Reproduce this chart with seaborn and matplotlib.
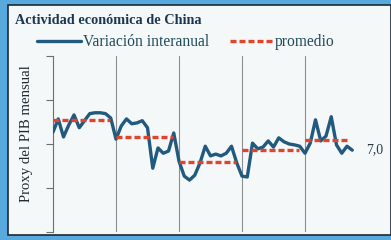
import matplotlib
matplotlib.use("Agg")
import matplotlib.pyplot as plt
from matplotlib.patches import Rectangle
from matplotlib.lines import Line2D
import pandas as pd
import seaborn as sns

# variacion interanual mensual
variacion = [7.27, 7.57, 7.16, 7.43, 7.66, 7.37, 7.53, 7.69, 7.71, 7.71, 7.69, 7.59,
             7.11, 7.41, 7.57, 7.46, 7.48, 7.53, 7.37, 6.45, 6.91, 6.79, 6.84, 7.25,
             6.61, 6.27, 6.18, 6.29, 6.57, 6.95, 6.73, 6.77, 6.73, 6.79, 6.95, 6.57,
             6.27, 6.25, 7.02, 6.89, 6.93, 7.07, 6.93, 7.14, 7.05, 7.00, 6.98, 6.95,
             6.79, 7.02, 7.55, 7.07, 7.18, 7.62, 6.98, 6.79, 6.95, 6.86]
meses = list(range(len(variacion)))

# promedio de cada anio
promedio = [7.55, 7.16, 6.59, 6.86, 7.09]
prom_inicio = [0, 12, 24, 36, 48]
prom_fin = [10.8, 22.8, 34.8, 46.8, 56.6]
divisiones = [12, 24, 36, 48]
ultimo = "7,0"

AZUL = "#215a7e"
ROJO = "#e0452b"

sns.set_theme(style="white")
plt.rcParams['font.family'] = ['Liberation Serif', 'DejaVu Serif']

W, H = 391, 240
fig = plt.figure(figsize=(W / 100, H / 100), dpi=100)
fig.patch.set_facecolor("#58a9dd")
fig.add_artist(Rectangle((8 / W, 5 / H), (391 - 8) / W, (235 - 5) / H,
                         transform=fig.transFigure, facecolor="#f4f8f9",
                         edgecolor="#1b2a35", lw=1.2, zorder=-1))

ax = fig.add_axes([53 / W, 1 - 232 / H, (388 - 53) / W, (232 - 56) / H])
ax.set_facecolor("none")

df = pd.DataFrame({"mes": meses, "variacion": variacion})
sns.lineplot(data=df, x="mes", y="variacion", ax=ax, color=AZUL, lw=2.4, zorder=3)

for m, s, e in zip(promedio, prom_inicio, prom_fin):
    ax.plot([s, e], [m, m], color=ROJO, lw=2.4, dashes=(1.8, 0.9), zorder=4)

for d in divisiones:
    ax.axvline(d, color="#8a8f90", lw=0.8, zorder=1)

ax.set_xlim(0, (388 - 53) / 5.25)
ax.set_ylim(5, 9)
ax.set_yticks([5, 6, 7, 8, 9])
ax.set_xticks([])
ax.tick_params(axis="y", left=True, length=5, width=0.8, color="#6a7070", labelleft=False)
for s in ["top", "right", "bottom"]:
    ax.spines[s].set_visible(False)
ax.spines["left"].set_color("#6a7070")
ax.spines["left"].set_linewidth(0.8)
ax.set_xlabel("")
ax.set_ylabel("")

ax.annotate(ultimo, (meses[-1], variacion[-1]), xytext=(16, 0.7),
            textcoords="offset points", ha="center", va="center",
            fontsize=10, color="#2a3a45")

fig.text(27 / W, 1 - 134 / H, "Proxy del PIB mensual", rotation=90,
         ha="center", va="center", fontsize=10.6, color="#1e2a30")
fig.text(15 / W, 1 - 20 / H, "Actividad económica de China", fontweight="bold",
         ha="left", va="center", fontsize=10.3, color="#1c3550")

handles = [Line2D([], [], color=AZUL, lw=2.4),
           Line2D([], [], color=ROJO, lw=2.4, dashes=(1.8, 0.9))]
leg = fig.legend(handles, ["Variación interanual", "promedio"], loc="center left",
                 bbox_to_anchor=(37 / W, 1 - 42 / H), ncol=2, frameon=False,
                 handlelength=2.8, handletextpad=0.13, columnspacing=1.35,
                 fontsize=11.2, borderaxespad=0, borderpad=0)
for t in leg.get_texts():
    t.set_color("#1f4a5a")

fig.savefig("out.png", dpi=100, facecolor=fig.get_facecolor())
